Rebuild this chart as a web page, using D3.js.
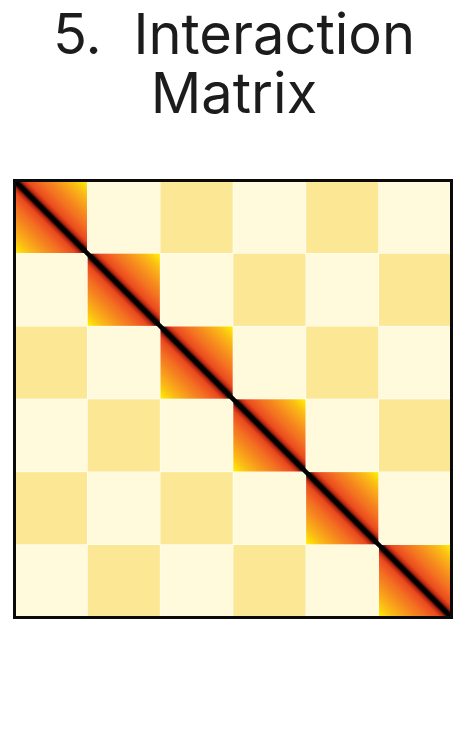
<!DOCTYPE html>
<html>
<head>
<meta charset="utf-8">
<script src="https://cdn.jsdelivr.net/npm/d3@7/dist/d3.min.js"></script>
<style>
html,body{margin:0;padding:0;background:#fff;}
svg{display:block;}
</style>
</head>
<body>
<script>
// ---- data ----
const titleLines = ["5. Interaction", "Matrix"];
const domains = ["D1", "D2", "D3", "D4", "D5", "D6"];
// interaction level per block: 2 = within-domain (diagonal), 1 = medium, 0 = low
const levels = [
  [2, 0, 1, 0, 1, 0],
  [0, 2, 0, 1, 0, 1],
  [1, 0, 2, 0, 1, 0],
  [0, 1, 0, 2, 0, 1],
  [1, 0, 1, 0, 2, 0],
  [0, 1, 0, 1, 0, 2]
];

// ---- layout ----
const W = 468, H = 740;
const x0 = 14.5, y0 = 180.5, size = 437;

const svg = d3.select("body").append("svg").attr("width", W).attr("height", H);

// title
svg.append("g").selectAll("text").data(titleLines).join("text")
  .attr("x", W / 2)
  .attr("y", (d, i) => 54 + i * 59)
  .attr("text-anchor", "middle")
  .attr("font-family", "Inter, 'Noto Sans', sans-serif")
  .attr("font-size", 56)
  .attr("word-spacing", 16)
  .attr("fill", "#1c1c1c")
  .text(d => d);

// gradient for within-domain blocks (perpendicular to diagonal)
const defs = svg.append("defs");
const grad = defs.append("linearGradient").attr("id", "diagGrad")
  .attr("x1", 1).attr("y1", 0).attr("x2", 0).attr("y2", 1);
const stops = [
  [0.00, "#fff200"], [0.10, "#fbc014"], [0.22, "#f7941d"], [0.34, "#f26a22"],
  [0.42, "#ea4a1e"], [0.455, "#b8280f"], [0.48, "#2a0804"], [0.5, "#000000"],
  [0.52, "#2a0804"], [0.545, "#b8280f"], [0.58, "#ea4a1e"], [0.66, "#f26a22"],
  [0.78, "#f7941d"], [0.90, "#fbc014"], [1.00, "#fff200"]
];
grad.selectAll("stop").data(stops).join("stop")
  .attr("offset", d => d[0]).attr("stop-color", d => d[1]);

const xs = d3.scaleBand().domain(domains).range([x0, x0 + size]);
const ys = d3.scaleBand().domain(domains).range([y0, y0 + size]);
const fill = d3.scaleOrdinal().domain([0, 1, 2]).range(["#fffadb", "#fce795", "url(#diagGrad)"]);

const cells = [];
levels.forEach((row, i) => row.forEach((v, j) => cells.push({ r: domains[i], c: domains[j], v })));

const gap = 0.6;
svg.append("g").selectAll("rect").data(cells).join("rect")
  .attr("x", d => xs(d.c) + gap / 2)
  .attr("y", d => ys(d.r) + gap / 2)
  .attr("width", xs.bandwidth() - gap)
  .attr("height", ys.bandwidth() - gap)
  .attr("fill", d => fill(d.v));

// diagonal line
svg.append("line")
  .attr("x1", xs.range()[0]).attr("y1", ys.range()[0])
  .attr("x2", xs.range()[1]).attr("y2", ys.range()[1])
  .attr("stroke", "#000").attr("stroke-width", 4.5);

// frame
svg.append("rect")
  .attr("x", x0).attr("y", y0).attr("width", size).attr("height", size)
  .attr("fill", "none").attr("stroke", "#0a0a0a").attr("stroke-width", 3);
</script>
</body>
</html>
